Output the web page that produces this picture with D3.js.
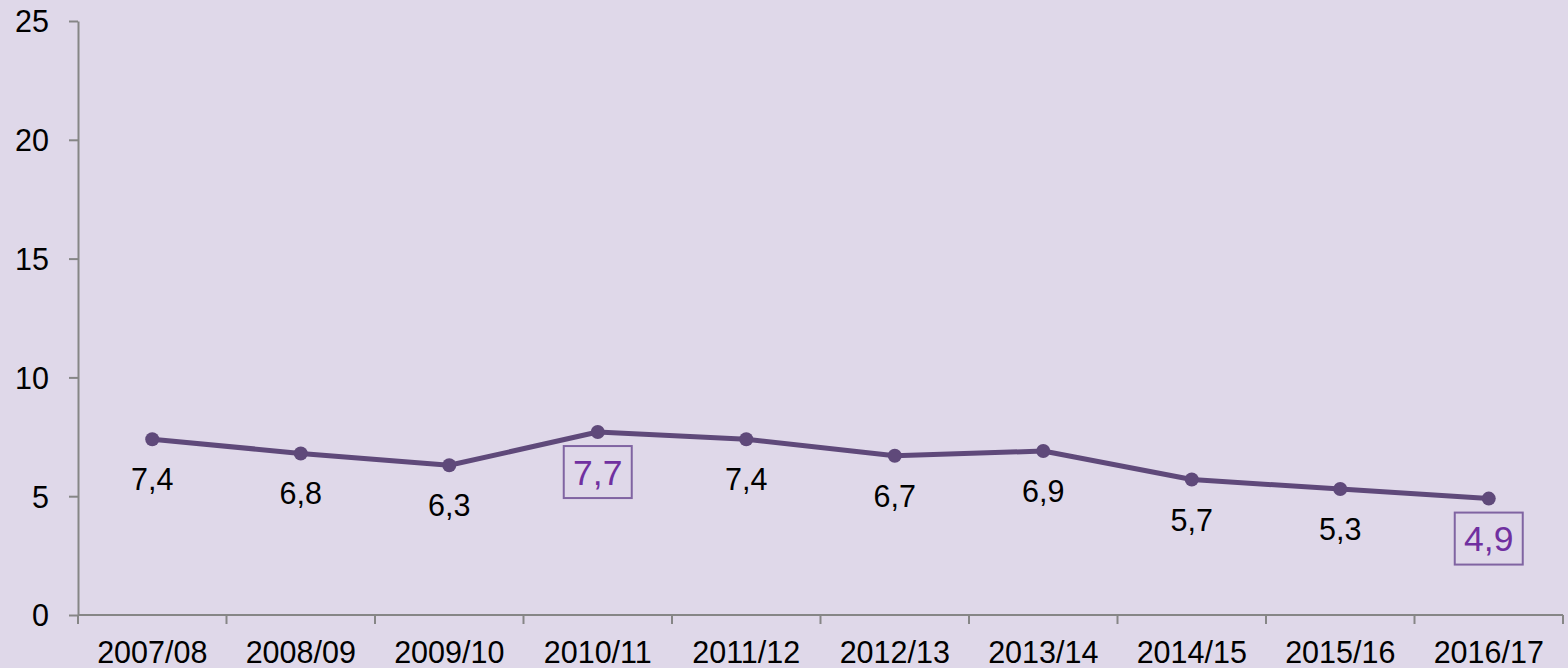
<!DOCTYPE html>
<html>
<head>
<meta charset="utf-8">
<script src="https://cdn.jsdelivr.net/npm/d3@7"></script>
<style>
  html, body { margin: 0; padding: 0; background: #dfd8e9; }
  svg { display: block; font-family: "Liberation Sans", Arial, sans-serif; }
</style>
</head>
<body>
<svg id="chart" width="1568" height="668"></svg>
<script>
// Schuljahre und Werte
const years = ["2007/08", "2008/09", "2009/10", "2010/11", "2011/12",
               "2012/13", "2013/14", "2014/15", "2015/16", "2016/17"];
const values = [7.4, 6.8, 6.3, 7.7, 7.4, 6.7, 6.9, 5.7, 5.3, 4.9];
const highlighted = ["2010/11", "2016/17"];
const yTicks = [0, 5, 10, 15, 20, 25];

const svg = d3.select("#chart");

const x = d3.scaleBand()
    .domain(years)
    .range([78, 1563]);

const y = d3.scaleLinear()
    .domain([0, 25])
    .range([615, 21]);

const axisColor = "#868686";
const lineColor = "#5f497a";

// y-Achse
const yAxis = svg.append("g")
    .attr("transform", "translate(78,0)")
    .call(d3.axisLeft(y).tickValues(yTicks).tickSize(9).tickPadding(20).tickSizeOuter(0));

yAxis.select(".domain").attr("stroke", axisColor).attr("stroke-width", 2);
yAxis.selectAll(".tick line").attr("stroke", axisColor).attr("stroke-width", 2);
yAxis.selectAll(".tick text")
    .attr("fill", "#000")
    .style("font-size", "30.5px")
    .attr("dy", "0.36em");

// x-Achse: Striche an den Bandgrenzen
const xAxisG = svg.append("g").attr("transform", "translate(0,615)");
xAxisG.append("line")
    .attr("x1", x.range()[0]).attr("x2", x.range()[1])
    .attr("stroke", axisColor).attr("stroke-width", 2);

const bounds = years.map(d => x(d)).concat([x.range()[1]]);
xAxisG.selectAll(".xtick")
    .data(bounds)
    .join("line")
    .attr("class", "xtick")
    .attr("x1", d => d).attr("x2", d => d)
    .attr("y1", 0).attr("y2", 9)
    .attr("stroke", axisColor).attr("stroke-width", 2);

xAxisG.selectAll(".xlabel")
    .data(years)
    .join("text")
    .attr("class", "xlabel")
    .attr("x", d => x(d) + x.bandwidth() / 2)
    .attr("y", 48)
    .attr("text-anchor", "middle")
    .style("font-size", "30.5px")
    .attr("fill", "#000")
    .text(d => d);

// Linie
const data = years.map((yr, i) => ({ year: yr, value: values[i] }));
const cx = d => x(d.year) + x.bandwidth() / 2;

svg.append("path")
    .datum(data)
    .attr("fill", "none")
    .attr("stroke", lineColor)
    .attr("stroke-width", 5)
    .attr("stroke-linejoin", "round")
    .attr("d", d3.line().x(cx).y(d => y(d.value)));

svg.selectAll(".dot")
    .data(data)
    .join("circle")
    .attr("class", "dot")
    .attr("cx", cx)
    .attr("cy", d => y(d.value))
    .attr("r", 7)
    .attr("fill", lineColor);

// Datenbeschriftungen
const fmt = v => String(v.toFixed(1)).replace(".", ",");

const labels = svg.selectAll(".lbl")
    .data(data)
    .join("g")
    .attr("class", "lbl")
    .attr("transform", d => `translate(${cx(d)},${y(d.value) + 40})`);

labels.filter(d => highlighted.includes(d.year))
    .append("rect")
    .attr("x", -34).attr("y", -26)
    .attr("width", 68).attr("height", 52)
    .attr("fill", "none")
    .attr("stroke", "#8064a2")
    .attr("stroke-width", 2);

labels.append("text")
    .attr("text-anchor", "middle")
    .attr("dy", "0.36em")
    .style("font-size", d => highlighted.includes(d.year) ? "35.5px" : "30.5px")
    .attr("fill", d => highlighted.includes(d.year) ? "#7030a0" : "#000")
    .text(d => fmt(d.value));
</script>
</body>
</html>
